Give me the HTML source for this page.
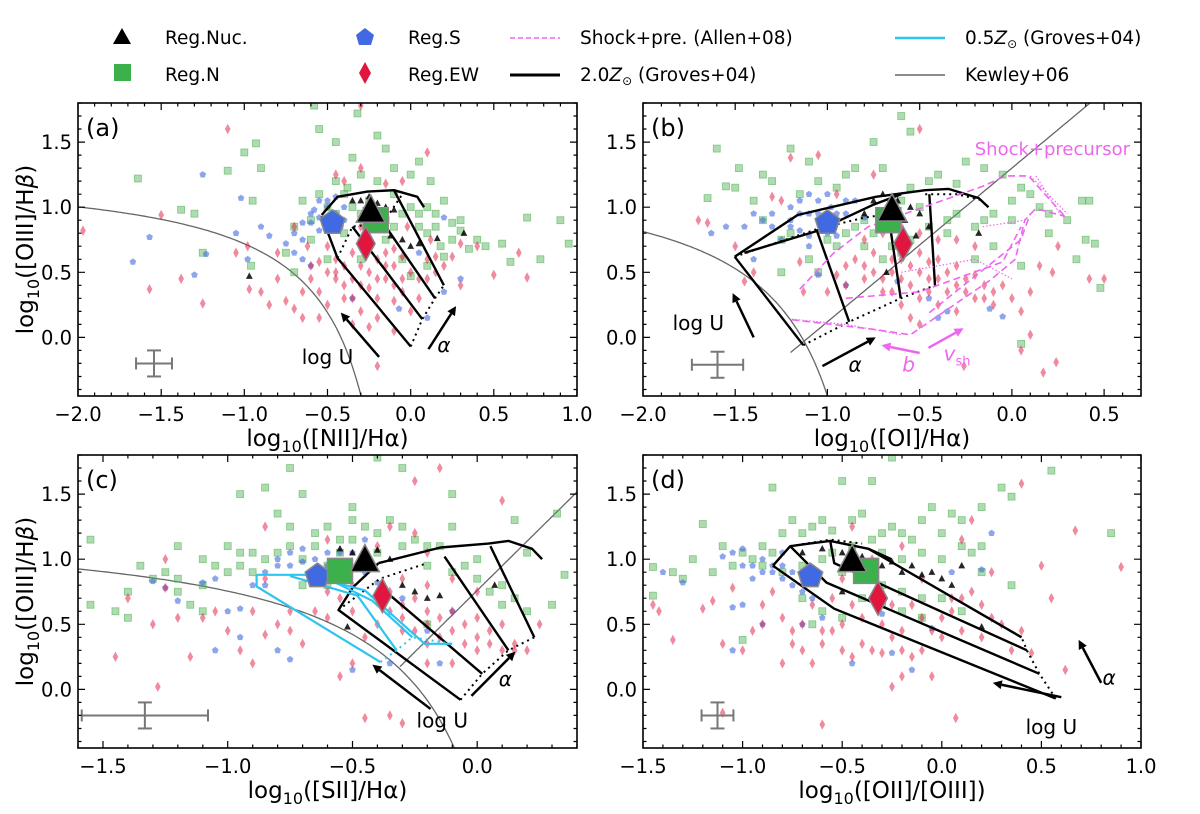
<!DOCTYPE html>
<html><head><meta charset="utf-8"><style>
html,body{margin:0;padding:0;background:#fff;}
svg{display:block;font-family:"DejaVu Sans","Liberation Sans",sans-serif;}
</style></head><body>
<svg id="fig" width="1200" height="814" viewBox="0 0 1200 814" xmlns="http://www.w3.org/2000/svg">
<g id="legend" font-size="18.5">
  <g><polygon points="122,28 131,44 113,44" fill="#000"/><text x="165" y="44">Reg.Nuc.</text></g>
  <g><rect x="114" y="64" width="17" height="17" fill="#3cb04a"/><text x="165" y="81">Reg.N</text></g>
  <g><polygon points="365,28 374,35 371,45 359,45 356,35" fill="#4169e1"/><text x="408" y="44">Reg.S</text></g>
  <g><polygon points="365,62 371,73 365,84 359,73" fill="#e0163f"/><text x="408" y="81">Reg.EW</text></g>
  <g><line x1="510" y1="38" x2="560" y2="38" stroke="#ee66ee" stroke-width="1.5" stroke-dasharray="5,3"/><text x="580" y="44">Shock+pre. (Allen+08)</text></g>
  <g><line x1="510" y1="75" x2="560" y2="75" stroke="#000" stroke-width="3"/><text x="580" y="81">2.0<tspan font-style="italic">Z</tspan><tspan font-size="12" dy="4">⊙</tspan><tspan dy="-4"> (Groves+04)</tspan></text></g>
  <g><line x1="895" y1="38" x2="945" y2="38" stroke="#2ec4f0" stroke-width="2.5"/><text x="965" y="44">0.5<tspan font-style="italic">Z</tspan><tspan font-size="12" dy="4">⊙</tspan><tspan dy="-4"> (Groves+04)</tspan></text></g>
  <g><line x1="895" y1="75" x2="945" y2="75" stroke="#666" stroke-width="1.5"/><text x="965" y="81">Kewley+06</text></g>
</g>
</svg>
<script>
// ---------- data ----------
const panelLabels = ['(a)','(b)','(c)','(d)'];
const xTitles = ['log<sub>10</sub>([NII]/Hα)','log<sub>10</sub>([OI]/Hα)','log<sub>10</sub>([SII]/Hα)','log<sub>10</sub>([OII]/[OIII])'];
const xTicksA = [-2.0,-1.5,-1.0,-0.5,0.0,0.5,1.0];
const xTicksB = [-2.0,-1.5,-1.0,-0.5,0.0,0.5];
const xTicksC = [-1.5,-1.0,-0.5,0.0];
const xTicksD = [-1.5,-1.0,-0.5,0.0,0.5,1.0];
const yTicks = [0.0,0.5,1.0,1.5];

const greenA = [[-1.64,1.22],[-1.1,1.28],[-1.0,1.42],[-0.9,1.3],[-0.93,1.49],[-1.38,0.98],[-1.3,0.95],[-0.95,1.05],[-0.96,0.55],[-1.25,0.65],[-0.7,0.5],[-0.55,1.6],[-0.45,1.5],[-0.35,1.38],[-0.2,1.55],[-0.15,1.45],[-0.1,1.3],[0.05,1.35],[0.12,1.2],[0.2,1.05],[0.3,0.9],[0.4,0.75],[0.55,0.72],[0.7,0.92],[0.78,0.6],[0.9,0.9],[0.95,0.72],[0.6,0.58],[0.45,0.7],[-0.55,1.1],[-0.45,1.2],[-0.38,1.15],[-0.3,1.25],[-0.25,1.05],[-0.1,1.1],[-0.05,0.95],[0.05,0.85],[0.1,0.8],[-0.15,0.75],[-0.05,0.6],[0.0,0.47],[0.1,0.55],[-0.3,0.6],[-0.4,0.8],[-0.6,0.9],[-0.7,0.85],[-0.65,1.05],[-0.2,0.95],[0.2,0.62],[-0.32,1.72],[-0.58,1.78],[0.25,0.88],[-0.75,0.65],[0.15,0.95]];
const greenA2 = [[-0.5,1.0],[-0.45,0.95],[-0.35,1.0],[-0.3,0.95],[-0.25,0.85],[-0.15,0.9],[-0.1,0.85],[0.0,1.0],[0.05,0.95],[0.1,1.0],[0.15,0.85],[0.25,0.75],[0.3,0.82],[-0.4,1.1],[-0.2,1.2],[0.0,1.25],[-0.6,0.75],[-0.5,0.6],[0.18,0.7],[0.35,0.68]];
const blueA = [[-1.67,0.58],[-1.57,0.77],[-1.3,0.48],[-1.23,0.64],[-1.25,1.25],[-0.98,0.6],[-1.05,0.8],[-0.9,0.85],[-0.85,0.78],[-0.75,0.72],[-0.7,0.65],[-0.65,0.88],[-0.6,0.95],[-0.55,1.05],[-0.5,1.0],[-0.45,0.95],[-0.4,0.9],[-0.55,0.82],[-0.65,0.6],[-0.6,0.55],[-0.35,0.3],[0.1,0.15],[0.2,0.35],[0.3,0.45],[-0.07,0.22],[0.05,0.65],[-0.5,0.92],[-0.45,1.08],[-0.58,0.98],[-0.42,0.85],[0.2,0.92],[-1.02,1.07]];
const blueA2 = [[-0.6,0.88],[-0.55,0.92],[-0.5,1.05],[-0.4,1.0],[-0.7,0.8],[-0.65,0.75]];
const redA = [[-1.97,0.82],[-1.5,0.94],[-1.57,0.37],[-1.38,0.45],[-1.25,0.26],[-1.1,1.6],[-1.05,0.65],[-0.98,0.7],[-0.97,0.37],[-0.9,0.35],[-0.85,0.25],[-0.8,0.45],[-0.75,0.28],[-0.7,0.22],[-0.65,0.15],[-0.6,0.45],[-0.55,0.35],[-0.5,0.25],[-0.45,0.5],[-0.4,0.4],[-0.35,0.3],[-0.3,0.55],[-0.25,0.38],[-0.2,0.3],[-0.15,0.45],[-0.1,0.28],[-0.05,0.35],[0.0,0.5],[0.05,0.3],[0.1,0.45],[0.15,0.5],[0.2,0.55],[0.25,0.62],[0.3,0.72],[0.4,0.7],[0.5,0.48],[0.65,0.65],[0.7,0.46],[-0.5,0.7],[-0.45,0.6],[-0.35,0.65],[-0.3,0.72],[-0.2,0.6],[-0.15,0.65],[-0.1,0.55],[-0.05,0.62],[-0.4,0.55],[-0.55,0.58],[-0.62,0.7],[-0.7,0.85],[-0.8,0.65],[-0.2,-0.22],[-0.35,0.1],[-0.3,0.2],[-0.55,0.15],[-0.45,1.25],[-0.4,1.2],[-0.3,1.3],[0.1,1.42],[-0.15,1.18],[-0.05,1.2],[-0.3,1.78],[-0.02,0.85],[0.12,0.75],[0.3,0.4],[-0.25,0.08],[-0.1,0.05]];
const redA2 = [[-0.6,0.55],[-0.5,0.5],[-0.45,0.45],[-0.35,0.45],[-0.3,0.4],[-0.25,0.5],[-0.2,0.45],[-0.15,0.55],[-0.1,0.4],[-0.05,0.45],[0.05,0.45],[0.1,0.6],[0.15,0.62],[-0.65,0.35],[-0.4,0.3],[-0.2,0.15],[0.0,0.2],[-0.1,0.68],[-0.3,0.85],[-0.5,0.85]];
const blackA = [[-0.97,0.47],[-0.3,1.05],[-0.25,1.08],[-0.2,1.03],[-0.15,1.0],[-0.1,0.98],[-0.05,0.75],[0.0,0.7],[0.05,0.72],[0.16,0.76],[0.32,0.8],[-0.35,1.05],[-0.12,0.78],[-0.22,0.92]];

const greenB = [[-1.65,1.07],[-1.6,1.45],[-1.55,1.16],[-1.5,1.15],[-1.48,1.3],[-1.4,1.05],[-1.35,1.25],[-1.3,1.2],[-1.2,1.45],[-1.15,1.1],[-1.1,1.35],[-1.05,1.2],[-0.95,1.15],[-0.9,1.25],[-0.85,1.3],[-0.75,1.5],[-0.7,1.3],[-0.6,1.7],[-0.55,1.15],[-0.45,1.2],[-0.4,1.25],[-0.3,1.18],[-0.25,1.35],[-0.15,1.3],[-0.05,1.25],[0.05,1.15],[0.15,1.0],[0.2,0.8],[0.3,0.9],[0.35,0.6],[0.4,0.75],[0.45,0.72],[0.48,0.38],[0.38,1.05],[0.42,1.05],[-0.35,0.8],[-0.2,0.6],[-0.1,0.7],[0.05,0.55],[0.0,0.9],[-1.25,0.5],[-1.05,0.5],[-0.95,0.7],[-0.85,0.85],[-0.75,0.8],[-0.8,0.9],[-0.65,0.7],[-1.25,0.75],[-1.35,0.9],[0.05,-0.05],[-0.55,1.58],[-0.15,0.9]];
const greenB2 = [[-1.0,0.75],[-0.9,0.8],[-0.8,0.7],[-0.7,0.6],[-0.6,0.65],[-0.55,0.75],[-0.45,0.85],[-0.35,0.9],[-0.3,0.95],[-0.2,0.85],[-0.1,0.95],[0.0,1.05],[0.1,1.1],[-1.1,0.6],[-1.2,0.8],[-0.5,1.0],[-0.6,1.05],[0.2,0.95]];
const blueB = [[-1.63,0.8],[-1.55,0.85],[-1.45,0.85],[-1.35,0.9],[-1.3,0.95],[-1.2,1.0],[-1.15,1.05],[-1.1,1.1],[-1.05,1.05],[-0.98,1.0],[-0.9,0.95],[-0.85,1.05],[-0.8,0.92],[-1.2,0.85],[-1.1,0.78],[-1.0,0.9],[-1.25,0.75],[-1.4,0.6],[-1.1,0.7],[-0.95,0.78],[-1.05,0.48],[-0.9,0.4],[-0.62,0.43],[-0.45,0.3],[-0.35,0.2],[-0.12,0.22],[-0.05,0.16],[-0.4,0.15],[-1.15,0.95],[-1.0,1.1],[-0.7,0.9],[-1.4,0.95]];
const blueB2 = [[-1.2,0.9],[-1.1,0.95],[-1.05,0.95],[-0.95,0.95],[-0.9,1.05],[-1.15,0.82],[-1.3,0.85],[-1.0,0.8]];
const redB = [[-1.7,0.9],[-1.65,0.88],[-1.5,0.7],[-1.4,0.5],[-1.45,0.43],[-1.3,1.08],[-1.25,1.05],[-1.15,0.58],[-1.13,0.35],[-1.05,1.4],[-1.0,0.35],[-0.95,0.48],[-0.9,0.55],[-0.85,0.6],[-0.8,0.45],[-0.75,0.65],[-0.7,0.35],[-0.65,0.5],[-0.6,0.6],[-0.55,0.55],[-0.5,0.65],[-0.45,0.58],[-0.4,0.45],[-0.35,0.5],[-0.3,0.4],[-0.25,0.35],[-0.2,0.48],[-0.15,0.3],[-0.1,0.25],[-0.05,0.4],[0.05,0.2],[0.1,0.35],[0.15,0.55],[0.22,0.5],[0.25,0.7],[0.42,0.45],[0.5,0.45],[-0.5,1.6],[-0.75,1.25],[-0.95,1.1],[-0.6,0.25],[-0.55,0.15],[-0.45,0.35],[-0.3,0.2],[-0.8,0.75],[-0.7,0.8],[-0.6,0.85],[-0.5,0.8],[-0.4,0.75],[-0.3,0.75],[-0.2,0.7],[-0.26,-0.22],[0.1,0.02],[0.17,-0.27],[0.24,-0.19],[0.05,-0.1],[-0.5,0.1],[-1.2,1.38]];
const redB2 = [[-0.9,0.4],[-0.8,0.55],[-0.75,0.5],[-0.7,0.45],[-0.65,0.6],[-0.6,0.45],[-0.55,0.4],[-0.5,0.5],[-0.45,0.45],[-0.4,0.6],[-0.35,0.35],[-0.3,0.55],[-0.25,0.45],[-0.2,0.3],[-0.15,0.4],[-0.1,0.35],[0.0,0.3],[-0.5,0.3],[-0.65,0.35],[-0.4,0.25]];
const blackB = [[-0.75,1.05],[-0.7,1.1],[-0.62,1.05],[-0.55,1.0],[-0.5,0.95],[-0.45,0.85],[-0.52,0.78],[-0.58,0.9],[-0.8,0.95],[-0.68,0.5],[-0.18,0.8]];

const greenC = [[-1.55,1.15],[-1.55,0.65],[-1.45,0.6],[-1.4,0.55],[-1.35,0.95],[-1.3,0.85],[-1.25,0.9],[-1.2,0.75],[-1.15,0.65],[-1.1,0.8],[-1.05,0.95],[-1.0,1.1],[-0.95,1.05],[-0.9,0.9],[-0.85,1.0],[-0.8,1.35],[-0.75,1.25],[-0.7,1.5],[-0.65,1.2],[-0.6,1.25],[-0.55,1.15],[-0.5,1.3],[-0.45,1.25],[-0.4,1.05],[-0.35,1.3],[-0.3,1.25],[-0.25,1.15],[-0.2,1.1],[-0.15,1.1],[-0.1,1.25],[-0.05,0.95],[0.0,0.85],[0.05,0.75],[0.1,0.65],[0.15,0.7],[0.2,1.05],[0.32,1.35],[0.35,0.88],[0.3,0.65],[-0.95,1.5],[-0.75,1.7],[-0.4,1.78],[-0.3,1.7],[-0.1,1.5],[-0.85,1.55],[-1.2,1.1],[-1.1,0.6],[-0.2,0.5],[-0.6,0.95],[-0.7,0.8],[-0.5,1.4],[0.15,1.3]];
const greenC2 = [[-1.0,0.9],[-0.95,0.95],[-0.9,1.05],[-0.8,1.05],[-0.75,1.1],[-0.7,1.0],[-0.65,1.1],[-0.55,1.05],[-0.5,1.15],[-0.4,1.2],[-0.3,1.1],[-0.2,0.95],[-0.1,0.9],[0.0,1.0],[0.1,0.8],[0.2,0.6],[-1.2,0.85],[-1.4,0.75],[-1.1,1.0],[-0.6,0.8]];
const blueC = [[-1.3,0.83],[-1.25,0.78],[-1.2,0.68],[-1.1,0.82],[-1.05,0.85],[-1.0,0.6],[-0.95,0.62],[-0.9,0.8],[-0.85,0.9],[-0.8,1.0],[-0.75,1.05],[-0.7,1.08],[-0.65,1.0],[-0.6,0.95],[-0.55,1.05],[-0.5,1.05],[-0.45,0.9],[-0.4,0.82],[-0.3,0.7],[-0.2,0.45],[-0.1,0.6],[-0.15,0.2],[-0.35,0.2],[-0.8,0.3],[-0.95,0.4],[-1.05,0.3],[-0.75,0.23],[-0.5,0.15],[-0.45,1.15]];
const blueC2 = [[-0.8,0.95],[-0.75,0.95],[-0.7,0.98],[-0.6,1.05],[-0.55,0.95],[-0.85,0.8]];
const redC = [[-1.45,0.25],[-1.4,0.7],[-1.3,0.5],[-1.25,0.78],[-1.2,0.55],[-1.15,0.25],[-1.1,0.55],[-1.05,0.6],[-1.0,0.45],[-0.95,0.3],[-0.9,0.2],[-0.85,0.42],[-0.8,0.5],[-0.75,0.45],[-0.7,0.35],[-0.65,0.6],[-0.6,0.55],[-0.55,0.7],[-0.5,0.6],[-0.45,0.4],[-0.4,0.5],[-0.35,0.6],[-0.3,0.55],[-0.25,0.45],[-0.2,0.35],[-0.15,0.4],[-0.1,0.6],[-0.05,0.5],[0.0,0.4],[0.05,0.35],[0.1,0.3],[0.15,0.35],[0.2,0.3],[0.25,0.5],[-0.3,0.85],[-0.2,0.8],[-0.1,0.85],[0.0,0.75],[-0.25,1.2],[-0.2,1.05],[-0.35,1.25],[-0.4,1.1],[0.1,1.45],[-0.15,1.7],[-0.25,1.6],[-0.85,1.25],[-0.6,1.15],[-0.35,-0.2],[-0.45,-0.22],[-0.3,-0.26],[-1.28,0.02],[-0.55,0.1],[-0.5,0.2],[-0.85,0.85],[-1.25,1.0],[-0.2,0.2]];
const redC2 = [[-0.4,0.7],[-0.35,0.75],[-0.3,0.65],[-0.25,0.7],[-0.2,0.6],[-0.15,0.55],[-0.1,0.45],[-0.05,0.35],[0.0,0.3],[0.05,0.45],[0.1,0.5],[0.15,0.3],[-0.3,0.45],[-0.2,0.5],[-0.1,0.2],[0.0,0.55],[-0.6,0.75],[-0.5,0.8],[-0.75,0.6],[-0.9,0.6]];
const blackC = [[-0.5,1.05],[-0.45,1.08],[-0.4,1.07],[-0.35,1.0],[-0.55,1.08],[-0.3,0.8],[-0.25,0.75],[-0.2,0.7],[-0.15,0.72],[0.07,0.8],[-0.52,0.48]];

const greenD = [[-1.45,0.94],[-1.35,0.9],[-1.3,0.85],[-1.25,1.0],[-1.2,1.27],[-1.15,0.9],[-1.1,1.1],[-1.05,0.95],[-1.0,1.05],[-0.95,1.0],[-0.9,1.1],[-0.85,1.05],[-0.8,1.2],[-0.75,1.3],[-0.7,1.2],[-0.65,1.25],[-0.6,1.3],[-0.55,1.22],[-0.5,1.6],[-0.45,1.3],[-0.4,1.35],[-0.35,1.6],[-0.3,1.2],[-0.25,1.25],[-0.2,1.2],[-0.15,1.15],[-0.1,1.3],[-0.05,1.4],[0.0,1.2],[0.05,1.35],[0.1,1.3],[0.2,1.4],[0.3,1.55],[0.35,1.48],[0.35,0.8],[0.2,0.9],[0.1,0.6],[0.0,0.7],[-0.1,0.55],[-0.2,0.6],[-0.3,0.65],[-0.4,0.7],[-0.5,0.55],[-0.6,0.6],[-0.7,0.7],[-1.0,0.38],[-1.45,0.72],[0.55,1.68],[0.85,1.2],[-0.25,1.78],[-0.85,1.55],[-0.65,0.5],[0.15,1.05]];
const greenD2 = [[-0.9,0.95],[-0.8,0.9],[-0.7,0.95],[-0.6,1.0],[-0.55,1.05],[-0.45,1.1],[-0.35,1.15],[-0.3,1.05],[-0.2,1.0],[-0.1,1.05],[0.0,1.0],[0.1,1.1],[-0.5,0.9],[-0.4,0.85],[-0.3,0.8],[-0.2,0.75],[-0.1,0.7],[0.2,1.1]];
const blueD = [[-1.4,0.9],[-1.3,0.82],[-1.1,1.02],[-1.05,1.05],[-1.0,1.08],[-0.95,0.95],[-0.9,1.0],[-0.85,0.9],[-0.8,0.85],[-0.75,0.8],[-0.7,0.75],[-0.65,0.7],[-1.05,0.63],[-1.0,0.65],[-0.9,0.5],[-0.7,0.5],[-0.6,0.55],[-0.45,0.2],[-0.25,0.28],[-0.15,0.15],[-0.05,0.47],[0.05,0.9],[0.2,0.92],[0.25,1.2],[-1.05,0.3],[-0.3,0.58],[-0.8,1.05]];
const blueD2 = [[-0.9,0.9],[-0.85,0.95],[-0.8,0.95],[-0.75,0.9],[-0.7,0.85],[-0.95,0.85],[-1.0,0.95]];
const redD = [[-1.45,0.65],[-1.42,0.6],[-1.35,0.38],[-1.2,0.62],[-1.15,0.68],[-1.1,0.35],[-1.05,0.78],[-1.0,0.3],[-0.95,0.45],[-0.9,0.5],[-0.85,0.75],[-0.8,0.2],[-0.75,0.45],[-0.7,0.3],[-0.65,0.2],[-0.6,0.35],[-0.55,0.45],[-0.5,0.3],[-0.45,0.25],[-0.4,0.35],[-0.35,0.3],[-0.3,0.28],[-0.25,0.4],[-0.2,0.3],[-0.15,0.25],[-0.1,0.3],[-0.05,0.45],[0.0,0.55],[0.05,0.6],[0.1,0.7],[0.15,0.75],[0.2,0.65],[0.25,0.55],[0.3,0.5],[0.35,0.3],[0.4,0.45],[0.45,0.28],[0.55,0.7],[0.5,0.95],[0.62,0.15],[0.67,1.22],[0.9,0.94],[0.4,1.58],[0.15,1.3],[0.1,1.15],[-0.2,1.1],[-0.45,1.25],[-0.3,0.75],[-0.1,0.85],[0.25,0.9],[-0.25,0.02],[0.07,-0.22],[-0.6,-0.27],[-1.1,-0.18],[-0.35,1.0],[-0.5,0.85],[-0.05,0.1],[-0.2,0.1]];
const redD2 = [[-0.8,0.55],[-0.7,0.5],[-0.6,0.45],[-0.5,0.5],[-0.4,0.55],[-0.3,0.5],[-0.2,0.45],[-0.1,0.55],[0.0,0.4],[0.1,0.45],[-0.65,0.65],[-0.55,0.7],[-0.45,0.65],[-0.35,0.7],[-0.25,0.65],[-0.15,0.65],[0.05,0.7],[0.2,0.4],[-0.9,0.65],[-0.75,0.35]];
const blackD = [[-0.7,1.05],[-0.6,1.08],[-0.5,1.05],[-0.4,1.02],[-0.3,0.95],[-0.2,0.9],[-0.1,0.88],[0.0,0.85],[-0.25,0.98],[-0.15,0.95],[0.1,0.95],[0.2,0.48],[-0.5,0.75],[-0.05,0.9],[0.05,0.8]];

// median markers: [blue, green, black, red]
const medA = [[-0.47,0.88],[-0.21,0.9],[-0.24,0.97],[-0.27,0.72]];
const medB = [[-1.0,0.88],[-0.67,0.9],[-0.65,0.98],[-0.59,0.72]];
const medC = [[-0.64,0.87],[-0.55,0.91],[-0.45,0.99],[-0.38,0.72]];
const medD = [[-0.66,0.87],[-0.38,0.91],[-0.45,0.99],[-0.32,0.70]];

// ---------- panel geometry ----------
const panels = [
 {key:'a',x0:78,x1:577,y0:103,y1:396,xl:[-2.0,1.0],xt:xTicksA,ylab:true},
 {key:'b',x0:643,x1:1141,y0:103,y1:396,xl:[-2.0,0.7],xt:xTicksB,ylab:false},
 {key:'c',x0:78,x1:577,y0:455,y1:748,xl:[-1.6,0.4],xt:xTicksC,ylab:true},
 {key:'d',x0:643,x1:1141,y0:455,y1:748,xl:[-1.5,1.0],xt:xTicksD,ylab:false}
];
const yl=[-0.45,1.8];
const NS='http://www.w3.org/2000/svg';
const svg=document.getElementById('fig');
function mk(tag,attrs,parent){const e=document.createElementNS(NS,tag);for(const k in attrs)e.setAttribute(k,attrs[k]);(parent||svg).appendChild(e);return e;}
function fmt(v){return (v<0?'\u2212':'')+Math.abs(v).toFixed(1);}

panels.forEach((p,i)=>{
  const X=v=>p.x0+(v-p.xl[0])/(p.xl[1]-p.xl[0])*(p.x1-p.x0);
  const Y=v=>p.y1-(v-yl[0])/(yl[1]-yl[0])*(p.y1-p.y0);
  p.X=X;p.Y=Y;
  const g=mk('g',{});
  
  
  const cid='clip'+p.key;
  const cp=mk('clipPath',{id:cid},g);mk('rect',{x:p.x0,y:p.y0,width:p.x1-p.x0,height:p.y1-p.y0},cp);
  const plot=mk('g',{'clip-path':'url(#'+cid+')'},g);
  p.plot=plot;p.g=g;
});

function poly(p,pts,attrs,name){
  const d=pts.map((q,k)=>(k?'L':'M')+p.X(q[0]).toFixed(1)+','+p.Y(q[1]).toFixed(1)).join(' ');
  const e=mk('path',Object.assign({d:d,fill:'none'},attrs),p.plot);
  
  
  return e;
}
function curve(p,f,xa,xb,name){const pts=[];for(let k=0;k<=120;k++){const x=xa+(xb-xa)*k/120;pts.push([x,f(x)]);}return poly(p,pts,{stroke:'#666','stroke-width':1.3},name);}

curve(panels[0],x=>0.61/(x-0.05)+1.3,-2.0,-0.29,'kauffmann-curve');
curve(panels[1],x=>0.73/(x+0.59)+1.33,-2.0,-0.99,'kewley-curve');
curve(panels[1],x=>1.18*x+1.30,-1.2,0.45,'seyfert-liner-line');
curve(panels[2],x=>0.72/(x-0.32)+1.30,-1.65,-0.08,'kewley-curve');
curve(panels[2],x=>1.89*x+0.76,-0.31,0.44,'seyfert-liner-line');

// scatter
const sets=[[greenA.concat(greenA2),blueA.concat(blueA2),redA.concat(redA2),blackA],[greenB.concat(greenB2),blueB.concat(blueB2),redB.concat(redB2),blackB],[greenC.concat(greenC2),blueC.concat(blueC2),redC.concat(redC2),blackC],[greenD.concat(greenD2),blueD.concat(blueD2),redD.concat(redD2),blackD]];
function marker(g,type,cx,cy,s,fill,op,stroke,sw){
  let e;
  if(type==='sq') e=mk('rect',{x:cx-s/2,y:cy-s/2,width:s,height:s},g);
  else if(type==='pent'){const pts=[];for(let k=0;k<5;k++){const a=-Math.PI/2+k*2*Math.PI/5;pts.push((cx+s*Math.cos(a)).toFixed(1)+','+(cy+s*Math.sin(a)).toFixed(1));}e=mk('polygon',{points:pts.join(' ')},g);}
  else if(type==='dia') e=mk('polygon',{points:`${cx},${cy-s} ${cx+s*0.55},${cy} ${cx},${cy+s} ${cx-s*0.55},${cy}`},g);
  else e=mk('polygon',{points:`${cx},${cy-s} ${cx+s*0.9},${cy+s*0.7} ${cx-s*0.9},${cy+s*0.7}`},g);
  e.setAttribute('fill',fill);e.setAttribute('fill-opacity',op);
  if(stroke){e.setAttribute('stroke',stroke);e.setAttribute('stroke-width',sw);}
  return e;
}
panels.forEach((p,i)=>{
  const [gr,bl,rd,bk]=sets[i];
  const sg=mk('g',{},p.plot);
  
  
  gr.forEach(q=>{const e=marker(sg,'sq',p.X(q[0]),p.Y(q[1]),7,'#4caf50',0.45,'#4caf50',0.8);e.setAttribute('stroke-opacity',0.6);
    
    });
  bl.forEach(q=>{const e=marker(sg,'pent',p.X(q[0]),p.Y(q[1]),3.5,'#4169e1',0.6);
    
    });
  rd.forEach(q=>{const e=marker(sg,'dia',p.X(q[0]),p.Y(q[1]),5.2,'#e0163f',0.5);
    
    });
  bk.forEach(q=>{const e=marker(sg,'tri',p.X(q[0]),p.Y(q[1]),3.8,'#000',0.85);
    
    });
});

// model grids (Groves 2.0 Zsun)
const bs={stroke:'#000','stroke-width':2.4,'stroke-linejoin':'round'};
const bd={stroke:'#000','stroke-width':2,'stroke-dasharray':'2,4'};
const gridA=[[[-0.535,0.94],[-0.44,1.08],[-0.26,1.12],[-0.1,1.13],[0.04,1.08],[0.08,1.0]],[[-0.535,0.93],[-0.44,0.61],[0.0,-0.07]],[[-0.35,0.85],[0.07,0.14]],[[-0.165,0.88],[0.146,0.30]],[[-0.1,1.13],[0.2,0.40]]];
const dotA=[[[0.0,-0.07],[0.07,0.14],[0.146,0.30],[0.2,0.40]],[[-0.44,0.61],[-0.35,0.85],[-0.165,0.88],[-0.05,1.1]]];
const gridB=[[[-1.503,0.62],[-1.162,0.94],[-0.738,1.08],[-0.47,1.13],[-0.344,1.14],[-0.18,1.07],[-0.127,1.0]],[[-1.503,0.62],[-1.131,-0.06]],[[-1.06,0.83],[-0.882,0.12]],[[-0.655,0.80],[-0.603,0.30]],[[-0.448,1.10],[-0.417,0.40]],[[-1.45,0.65],[-1.05,0.82],[-0.75,1.02],[-0.6,1.1]]];
const dotB=[[[-1.131,-0.06],[-0.882,0.12],[-0.603,0.30],[-0.417,0.40]],[[-1.503,0.62],[-1.06,0.83],[-0.8,0.92],[-0.655,0.95]],[[-0.47,1.1],[-0.3,1.1],[-0.15,1.05]]];
const gridC=[[[-0.395,0.97],[-0.147,1.09],[0.045,1.12],[0.125,1.14],[0.22,1.08],[0.26,1.0]],[[-0.395,0.97],[-0.5,0.78],[-0.556,0.61],[-0.067,-0.08]],[[-0.372,0.76],[0.02,0.12]],[[-0.131,1.02],[0.125,0.30]],[[0.053,1.1],[0.229,0.40]]];
const dotC=[[[-0.067,-0.08],[0.02,0.12],[0.125,0.30],[0.229,0.40]],[[-0.556,0.61],[-0.39,0.85],[-0.2,0.97]]];
const gridD=[[[-0.848,0.95],[-0.761,1.1],[-0.665,1.12],[-0.56,1.14],[-0.368,1.08],[-0.253,1.0]],[[-0.848,0.95],[-0.54,0.62],[0.572,-0.07]],[[-0.761,1.1],[-0.579,0.82],[0.49,0.12]],[[-0.56,1.14],[-0.54,0.97],[0.427,0.30]],[[-0.368,1.08],[0.4,0.40]]];
const dotD=[[[0.572,-0.07],[0.49,0.12],[0.427,0.30],[0.4,0.40]],[[-0.761,1.1],[-0.56,1.15],[-0.4,1.12]]];
[[gridA,dotA],[gridB,dotB],[gridC,dotC],[gridD,dotD]].forEach((gd,i)=>{
  gd[0].forEach(l=>poly(panels[i],l,bs,'groves-2z-grid-line'));
  gd[1].forEach(l=>poly(panels[i],l,bd,'groves-2z-grid-dotted'));
});
const cyanC=[[[-0.884,0.88],[-0.69,0.88],[-0.45,0.76],[-0.211,0.35],[-0.1,0.35]],[[-0.884,0.88],[-0.884,0.79],[-0.388,0.21]],[[-0.75,0.87],[-0.48,0.72],[-0.323,0.30]],[[-0.6,0.85],[-0.42,0.68],[-0.26,0.4]]];
cyanC.forEach(l=>poly(panels[2],l,{stroke:'#2ec4f0','stroke-width':2.2},'groves-05z-grid-line'));
poly(panels[2],[[-0.388,0.21],[-0.323,0.30],[-0.26,0.4],[-0.1,0.35]],{stroke:'#2ec4f0','stroke-width':2,'stroke-dasharray':'2,4'},'groves-05z-grid-dotted');
const shockDash=[[[-1.193,0.136],[-0.738,0.06],[-0.551,0.02],[-0.117,0.44],[0.018,0.6],[0.07,0.9],[0.13,0.99],[0.287,0.93]],[[-1.15,0.37],[-0.965,0.65],[-0.779,0.85],[-0.158,1.16],[-0.034,1.24],[0.09,1.24],[0.287,0.93]],[[-0.448,0.19],[0.049,0.75],[0.1,0.95]],[[-0.9,0.3],[-0.5,0.35],[-0.05,0.58],[0.05,0.85]]];
const shockDot=[[[-1.193,0.14],[-0.9,0.1],[-0.6,0.02]],[[-0.158,0.85],[0.07,0.9]],[[0.1,1.24],[0.3,0.95]],[[0.13,1.24],[0.26,0.95]],[[-0.6,0.5],[-0.2,0.6],[0.0,0.45]]];
shockDash.forEach(l=>poly(panels[1],l,{stroke:'#ee66ee','stroke-width':1.6,'stroke-dasharray':'7,4'},'shock-grid-dashed'));
shockDot.forEach(l=>poly(panels[1],l,{stroke:'#ee66ee','stroke-width':1.2,'stroke-dasharray':'1.5,2'},'shock-grid-dotted'));

// medians
panels.forEach((p,i)=>{
  const m=[medA,medB,medC,medD][i];
  const mg=mk('g',{},p.plot);
  
  
  let e;
  e=marker(mg,'pent',p.X(m[0][0]),p.Y(m[0][1]),13,'#4169e1',1,'#888',1.5);
  
  
  e=marker(mg,'sq',p.X(m[1][0]),p.Y(m[1][1]),25,'#3cb04a',1,'#888',1.5);
  
  
  e=marker(mg,'tri',p.X(m[2][0]),p.Y(m[2][1]),16,'#000',1,'#888',1.5);
  
  
  e=marker(mg,'dia',p.X(m[3][0]),p.Y(m[3][1]),17,'#e0163f',1,'#888',1.5);
  
  
});

// arrows + annotations
const arrows=[
 [0,[-0.19,-0.15],[-0.42,0.19],'#000'],[0,[0.107,-0.09],[0.273,0.24],'#000'],
 [1,[-1.4,0.0],[-1.514,0.34],'#000'],[1,[-1.027,-0.22],[-0.738,0.0],'#000'],[1,[-0.5,-0.12],[-0.707,-0.06],'#ee66ee'],[1,[-0.452,-0.08],[-0.262,0.07],'#ee66ee'],
 [2,[-0.187,-0.15],[-0.42,0.19],'#000'],[2,[-0.023,-0.05],[0.153,0.29],'#000'],
 [3,[0.6,-0.06],[0.256,0.05],'#000'],[3,[0.8,0.05],[0.687,0.38],'#000']];
arrows.forEach(a=>{
  const p=panels[a[0]];const x1=p.X(a[1][0]),y1=p.Y(a[1][1]),x2=p.X(a[2][0]),y2=p.Y(a[2][1]);
  const ang=Math.atan2(y2-y1,x2-x1),h=9,w=4.5;
  const bx=x2-h*Math.cos(ang),by=y2-h*Math.sin(ang);
  const g=mk('g',{},p.g);
  
  
  mk('line',{x1:x1,y1:y1,x2:bx,y2:by,stroke:a[3],'stroke-width':2.5},g);
  mk('polygon',{points:`${x2},${y2} ${bx+w*Math.sin(ang)},${by-w*Math.cos(ang)} ${bx-w*Math.sin(ang)},${by+w*Math.cos(ang)}`,fill:a[3]},g);
});
const notes=[[0,-0.5,-0.15,'log U','#000',''],[0,0.2,-0.06,'α','#000','italic'],
 [1,-1.7,0.11,'log U','#000',''],[1,-0.85,-0.21,'α','#000','italic'],[1,-0.56,-0.21,'b','#ee66ee','italic'],
 [2,-0.14,-0.24,'log U','#000',''],[2,0.113,0.08,'α','#000','italic'],
 [3,0.55,-0.29,'log U','#000',''],[3,0.84,0.09,'α','#000','italic']];
notes.forEach(n=>{const p=panels[n[0]];const t=mk('text',{x:p.X(n[1]),y:p.Y(n[2])+7,'text-anchor':'middle','font-size':20,fill:n[4],'font-style':n[5]||'normal'},p.g);t.textContent=n[3];
  
  });
{const p=panels[1];const t=mk('text',{x:p.X(-0.37),y:p.Y(-0.13)+6,'font-size':20,fill:'#ee66ee','font-style':'italic'},p.g);t.innerHTML='v<tspan font-size="13" dy="5" font-style="normal">sh</tspan>';
 
 
 const s=mk('text',{x:1130,y:155,'text-anchor':'end','font-size':18,fill:'#ee66ee'},p.g);s.textContent='Shock+precursor';
 
 }

// error bars
const errs=[[-1.543,-0.2,0.108,0.1],[-1.596,-0.21,0.139,0.1],[-1.332,-0.2,0.253,0.1],[-1.126,-0.2,0.08,0.1]];
errs.forEach((e,i)=>{const p=panels[i];const g=mk('g',{stroke:'#777','stroke-width':2},p.g);
 
 
 const cx=p.X(e[0]),cy=p.Y(e[1]),xa=p.X(e[0]-e[2]),xb=p.X(e[0]+e[2]),ya=p.Y(e[1]+e[3]),yb=p.Y(e[1]-e[3]);
 mk('line',{x1:xa,y1:cy,x2:xb,y2:cy},g);mk('line',{x1:cx,y1:ya,x2:cx,y2:yb},g);
 mk('line',{x1:xa,y1:cy-6,x2:xa,y2:cy+6},g);mk('line',{x1:xb,y1:cy-6,x2:xb,y2:cy+6},g);
 mk('line',{x1:cx-7,y1:ya,x2:cx+7,y2:ya},g);mk('line',{x1:cx-7,y1:yb,x2:cx+7,y2:yb},g);});

// axes frames, ticks, labels
panels.forEach((p,i)=>{
  const ax=mk('g',{},p.g);
  
  
  mk('rect',{x:p.x0,y:p.y0,width:p.x1-p.x0,height:p.y1-p.y0,fill:'none',stroke:'#000','stroke-width':1.6},ax);
  let d='';
  for(let v=Math.ceil(p.xl[0]*10-1e-6);v<=p.xl[1]*10+1e-6;v++){const x=p.X(v/10).toFixed(1);const L=(v%5===0)?7:3.5;d+=`M${x},${p.y1}v-${L}M${x},${p.y0}v${L}`;}
  for(let v=-4;v<=18;v++){const y=p.Y(v/10).toFixed(1);const L=(v%5===0)?7:3.5;d+=`M${p.x0},${y}h${L}M${p.x1},${y}h-${L}`;}
  mk('path',{d:d,stroke:'#000','stroke-width':1.2,fill:'none'},ax);
  p.xt.forEach(v=>{const t=mk('text',{x:p.X(v),y:p.y1+25,'text-anchor':'middle','font-size':19.5},ax);t.textContent=fmt(v);
    
    });
  yTicks.forEach(v=>{const t=mk('text',{x:p.x0-6,y:p.Y(v)+7,'text-anchor':'end','font-size':19.5},ax);t.textContent=fmt(v);
    
    });
  const pl=mk('text',{x:p.x0+8,y:p.y0+33,'font-size':24},ax);pl.textContent=panelLabels[i];
  
  
  const xt=mk('text',{x:(p.x0+p.x1)/2,y:p.y1+50,'text-anchor':'middle','font-size':23},ax);
  xt.innerHTML=xTitles[i].replace('<sub>','<tspan font-size="16" dy="6">').replace('</sub>','</tspan><tspan dy="-6">')+'</tspan>';
  
  
  if(p.ylab){const cy=(p.y0+p.y1)/2;const yt=mk('text',{x:0,y:0,'text-anchor':'middle','font-size':23,transform:`translate(33,${cy}) rotate(-90)`},ax);
    yt.innerHTML='log<tspan font-size="16" dy="6">10</tspan><tspan dy="-6">([OIII]/H</tspan><tspan font-style="italic">β</tspan>)';
    
    }
});
</script>
</body></html>
